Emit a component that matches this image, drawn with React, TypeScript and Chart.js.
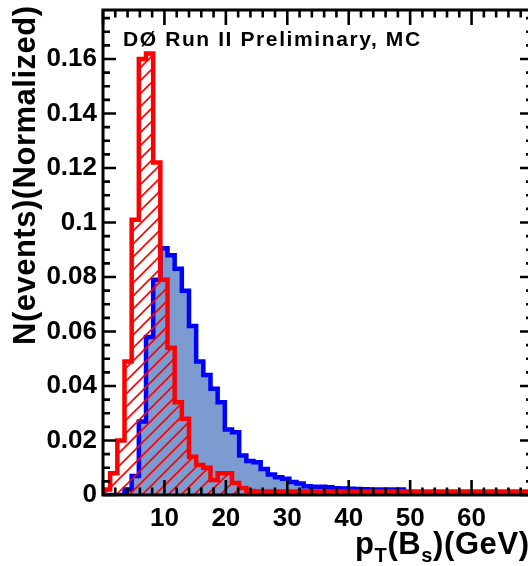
import React, { useEffect, useRef } from 'react';
import { Chart, registerables } from 'chart.js';

Chart.register(...registerables);

// ---- data ----
const X_MIN = 0;
const X_MAX = 70;
const BIN_WIDTH = 70 / 60; // 60 bins over 0-70 GeV
const Y_MIN = 0;
const Y_MAX = 0.178;

const xTickLabels = ['10', '20', '30', '40', '50', '60'];
const yTickLabels = ['0', '0.02', '0.04', '0.06', '0.08', '0.1', '0.12', '0.14', '0.16'];

// red hatched histogram
const redValues = [
  0.002, 0.008, 0.020, 0.049, 0.101, 0.160, 0.162, 0.122, 0.079, 0.054,
  0.034, 0.028, 0.014, 0.011, 0.010, 0.0055, 0.008, 0.008, 0.0044, 0.0026,
  0.0015, 0.0013, 0.0013, 0.0013, 0.0013, 0.0013, 0.0013, 0.0013, 0.0013, 0.0013,
  0.0013, 0.0013, 0.0013, 0.0013, 0.0013, 0.0013, 0.0013, 0.0013, 0.0013, 0.0013,
  0.0013, 0.0013, 0.0013, 0.0013, 0.0013, 0.0013, 0.0013, 0.0013, 0.0013, 0.0013,
  0.0013, 0.0013, 0.0013, 0.0013, 0.0013, 0.0013, 0.0013, 0.0013, 0.0013, 0.0013,
];

// blue filled histogram
const blueValues = [
  0, 0, 0, 0.002, 0.007, 0.027, 0.058, 0.079, 0.0906, 0.088,
  0.083, 0.075, 0.062, 0.049, 0.044, 0.039, 0.034, 0.024, 0.023, 0.0145,
  0.0125, 0.012, 0.0095, 0.0075, 0.0065, 0.006, 0.0048, 0.0042, 0.0032, 0.003,
  0.003, 0.0028, 0.0025, 0.0024, 0.0023, 0.0022, 0.0021, 0.002, 0.002, 0.002,
  0.002, 0.002, 0, 0, 0, 0, 0, 0, 0, 0,
  0, 0, 0, 0, 0, 0, 0, 0, 0, 0,
];

const FONT = '"Liberation Sans", Arial, Helvetica, sans-serif';

function toSteps(values: number[]) {
  const pts = [{ x: X_MIN, y: 0 }];
  values.forEach((v, i) => pts.push({ x: X_MIN + i * BIN_WIDTH, y: v }));
  pts.push({ x: X_MAX, y: values[values.length - 1] });
  return pts;
}

function makeHatch(): CanvasPattern | string {
  const s = 13;
  const c = document.createElement('canvas');
  c.width = s;
  c.height = s;
  const g = c.getContext('2d');
  if (!g) return 'rgba(255,0,0,0.3)';
  g.strokeStyle = '#ff0000';
  g.lineWidth = 1.6;
  g.beginPath();
  g.moveTo(-1, s + 1);
  g.lineTo(s + 1, -1);
  g.moveTo(-2, 2);
  g.lineTo(2, -2);
  g.moveTo(s - 2, s + 2);
  g.lineTo(s + 2, s - 2);
  g.stroke();
  return g.createPattern(c, 'repeat') || 'rgba(255,0,0,0.3)';
}

const framePlugin = {
  id: 'rootFrame',
  afterDatasetsDraw(chart: any) {
    const { ctx, chartArea: a, scales } = chart;
    const xs = scales.x;
    const ys = scales.y;
    ctx.save();
    ctx.strokeStyle = '#000';
    ctx.lineWidth = 2.6;
    ctx.beginPath();
    for (let v = X_MIN; v <= X_MAX + 1e-9; v += 2) {
      const px = xs.getPixelForValue(v);
      const major = Math.abs(v % 10) < 1e-9;
      const len = major ? 15 : 7.5;
      ctx.moveTo(px, a.bottom);
      ctx.lineTo(px, a.bottom - len);
      ctx.moveTo(px, a.top);
      ctx.lineTo(px, a.top + len);
    }
    for (let i = 0; i * 0.005 <= Y_MAX + 1e-9; i++) {
      const v = i * 0.005;
      const py = ys.getPixelForValue(v);
      const len = i % 4 === 0 ? 13 : 7;
      ctx.moveTo(a.left, py);
      ctx.lineTo(a.left + len, py);
      ctx.moveTo(a.right, py);
      ctx.lineTo(a.right - len, py);
    }
    ctx.stroke();
    ctx.lineWidth = 3;
    ctx.strokeRect(a.left, a.top, a.right - a.left, a.bottom - a.top);
    ctx.restore();
  },
};

export default function App() {
  const ref = useRef<HTMLCanvasElement | null>(null);

  useEffect(() => {
    if (!ref.current) return;
    const hatch = makeHatch();
    const chart = new Chart(ref.current, {
      type: 'line',
      data: {
        datasets: [
          {
            label: 'red',
            data: toSteps(redValues),
            stepped: 'before',
            borderColor: '#ff0000',
            borderWidth: 4.5,
            backgroundColor: hatch as any,
            fill: 'origin',
            pointRadius: 0,
            borderJoinStyle: 'miter',
            borderCapStyle: 'butt',
            order: 1,
          },
          {
            label: 'blue',
            data: toSteps(blueValues),
            stepped: 'before',
            borderColor: '#0000ff',
            borderWidth: 4.5,
            backgroundColor: '#7b9bd1',
            fill: 'origin',
            pointRadius: 0,
            borderJoinStyle: 'miter',
            borderCapStyle: 'butt',
            order: 2,
          },
        ],
      },
      options: {
        animation: false,
        responsive: false,
        devicePixelRatio: 1,
        layout: { padding: { top: 10, right: 12, left: 0, bottom: 0 } },
        plugins: {
          legend: { display: false },
          tooltip: { enabled: false },
        },
        scales: {
          x: {
            type: 'linear',
            min: X_MIN,
            max: X_MAX,
            grid: { display: false, drawTicks: false },
            border: { display: false },
            ticks: {
              stepSize: 10,
              includeBounds: false,
              autoSkip: false,
              maxRotation: 0,
              padding: 8,
              color: '#000',
              font: { family: FONT, size: 26, weight: 'bold' },
              callback: (v: any) => {
                const s = String(Math.round(Number(v)));
                return xTickLabels.includes(s) ? s : '';
              },
            },
            afterFit: (s: any) => {
              s.height = 71;
              s.paddingLeft = 0;
              s.paddingRight = 0;
            },
          },
          y: {
            type: 'linear',
            min: Y_MIN,
            max: Y_MAX,
            grid: { display: false, drawTicks: false },
            border: { display: false },
            ticks: {
              stepSize: 0.02,
              includeBounds: false,
              autoSkip: false,
              padding: 6,
              color: '#000',
              font: { family: FONT, size: 26, weight: 'bold' },
              callback: (v: any) => {
                const s = String(parseFloat(Number(v).toFixed(3)));
                return yTickLabels.includes(s) ? s : '';
              },
            },
            afterFit: (s: any) => {
              s.width = 103;
              s.paddingTop = 0;
              s.paddingBottom = 0;
            },
          },
        },
      } as any,
      plugins: [framePlugin],
    });
    return () => chart.destroy();
  }, []);

  const textBase: React.CSSProperties = {
    position: 'absolute',
    fontFamily: FONT,
    fontWeight: 'bold',
    color: '#000',
    whiteSpace: 'nowrap',
  };

  return (
    <div style={{ position: 'absolute', left: 0, top: 0, width: 528, height: 566, overflow: 'hidden', background: '#fff' }}>
      <canvas ref={ref} width={545} height={566} style={{ position: 'absolute', left: 0, top: 0, width: 545, height: 566 }} />
      <div style={{ ...textBase, left: 123, top: 28, fontSize: 21, lineHeight: '21px', letterSpacing: '1.6px' }}>
        DØ Run II Preliminary, MC
      </div>
      <div
        style={{
          ...textBase,
          left: 9,
          top: 345,
          fontSize: 31,
          lineHeight: '31px',
          letterSpacing: '0.5px',
          transformOrigin: '0 0',
          transform: 'rotate(-90deg)',
        }}
      >
        N(events)(Normalized)
      </div>
      <div style={{ ...textBase, left: 355, top: 528, fontSize: 31, lineHeight: '31px', letterSpacing: '0.6px' }}>
        p<span style={{ fontSize: 20, position: 'relative', top: 8 }}>T</span>(B
        <span style={{ fontSize: 20, position: 'relative', top: 8 }}>s</span>)(GeV)
      </div>
    </div>
  );
}
